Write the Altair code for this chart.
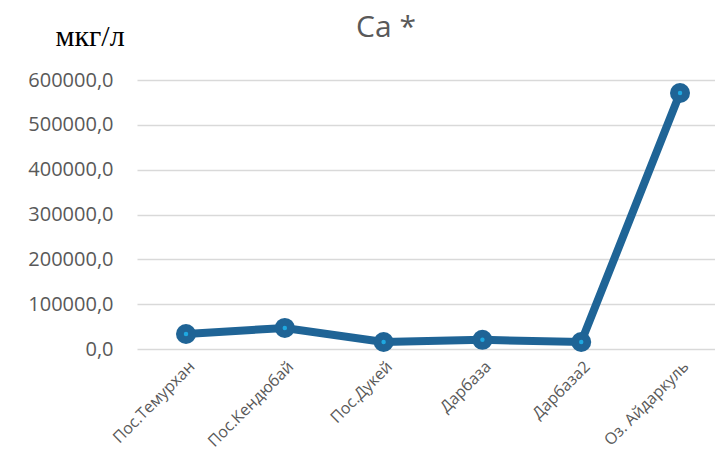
import altair as alt
import pandas as pd

categories = ["Пос.Темурхан", "Пос.Кендюбай", "Пос.Дукей", "Дарбаза", "Дарбаза2", "Оз. Айдаркуль"]
values = [33500, 47000, 15500, 20500, 15500, 571000]
y_ticks = [0, 100000, 200000, 300000, 400000, 500000, 600000]

df = pd.DataFrame({"site": categories, "idx": list(range(len(categories))), "ca": values})

GRAY = "#595959"
LINE = "#1f6496"
DOT = "#1fa8e0"

cat_js = "[" + ",".join("'" + c + "'" for c in categories) + "]"

x_enc = alt.X("idx:Q",
              scale=alt.Scale(domain=[-0.496, 5.354], nice=False, zero=False),
              axis=alt.Axis(title=None, values=list(range(len(categories))),
                            labelExpr=cat_js + "[datum.value]",
                            labelAngle=-45, labelAlign="right",
                            labelBaseline="top", labelPadding=9, labelFontSize=16,
                            labelFont="Open Sans", labelColor=GRAY, ticks=False,
                            domain=False, grid=False, labelOverlap=False, labelFlush=False))
y_enc = alt.Y("ca:Q", scale=alt.Scale(domain=[0, 600000], nice=False),
              axis=alt.Axis(values=y_ticks, title="мкг/л", titleAngle=0,
                            titleAlign="left", titleBaseline="alphabetic",
                            titleX=-82, titleY=-35, titleFont="Liberation Serif",
                            titleFontSize=30, titleFontWeight="normal", titleColor="#000000",
                            labelExpr="replace(format(datum.value, '.1f'), '.', ',')",
                            labelFont="Open Sans", labelFontSize=20, labelColor=GRAY,
                            labelPadding=24, ticks=False, domain=False,
                            gridColor="#d9d9d9", gridWidth=1.5))

base = alt.Chart(df).encode(x=x_enc, y=y_enc)
line = base.mark_line(color=LINE, strokeWidth=8)
outer = base.mark_point(filled=True, color=LINE, size=400, opacity=1)
inner = base.mark_point(filled=True, color=DOT, size=20, opacity=1)

title = alt.Chart(pd.DataFrame({"t": ["Ca *"]})).mark_text(
    font="Open Sans", fontSize=30, color=GRAY, align="center", baseline="alphabetic"
).encode(text="t:N", x=alt.value(249), y=alt.value(-43))

chart = (line + outer + inner + title).properties(
    width=578, height=269,
    autosize=alt.AutoSizeParams(type="none"),
    padding={"left": 137, "top": 80, "right": 0, "bottom": 106},
).configure_view(stroke=None)

chart.save("out.html", embed_options={"renderer": "svg", "actions": False})
